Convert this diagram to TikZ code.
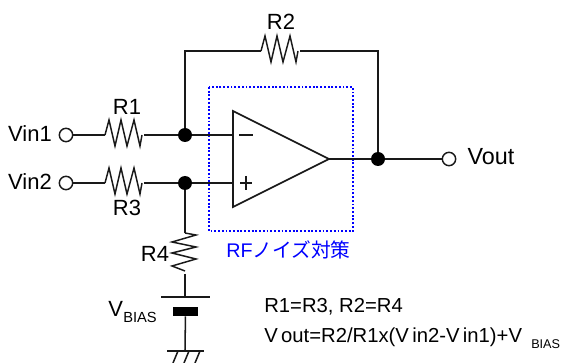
\documentclass[tikz,border=0pt]{standalone}
\usepackage{fontspec}
\setmainfont{Liberation Sans}
\newfontfamily\cjkfont{Noto Sans CJK JP}
\usetikzlibrary{calc}
\tikzset{
  wire/.style={line width=1.15pt,black!90},
  stub/.style={line width=1.6pt,black!90},
  zig/.style={line width=1.1pt,black!90,line join=miter},
  term/.style={circle,draw=black!90,fill=white,line width=1.1pt,minimum size=10pt,inner sep=0pt},
  dotj/.style={circle,fill=black,minimum size=10.5pt,inner sep=0pt},
  lbl/.style={inner sep=0pt,font=\fontsize{16.5}{18}\selectfont,text=black},
  eqn/.style={inner sep=0pt,anchor=base west,font=\fontsize{15.2}{18}\selectfont,text=black},
}
\newcommand{\zigh}[2]{% horizontal resistor: left end name, right end name
  \draw[zig] (#1) -- ++(4,-15) -- ++(6,26) -- ++(6,-26) -- ++(6,26) -- ++(7,-26) -- ++(6,26) -- (#2);}
\begin{document}
\begin{tikzpicture}[x=0.75pt,y=-0.75pt]
\useasboundingbox (0,0) rectangle (564,363);
% box
\draw[blue,line width=1.4pt,dash pattern=on 1.4pt off 1.4pt] (209,87) rectangle (353,231);
% terminals and joints
\node[term] (vin1) at (66,135) {};
\node[term] (vin2) at (66,183) {};
\node[term] (vout) at (449,159) {};
\node[dotj] (n1) at (185,135) {};
\node[dotj] (n2) at (185,183) {};
\node[dotj] (n3) at (378,159) {};
% resistor ends
\coordinate (r1a) at (105,135); \coordinate (r1b) at (142,135);
\coordinate (r3a) at (105,183); \coordinate (r3b) at (142,183);
\coordinate (r2a) at (261,51);  \coordinate (r2b) at (298,51);
\coordinate (r4a) at (185,233); \coordinate (r4b) at (185,271);
\zigh{r1a}{r1b}
\zigh{r3a}{r3b}
\zigh{r2a}{r2b}
\draw[zig] (r4a) -- (196,235) -- (172,242) -- (196,247) -- (172,253) -- (196,259) -- (172,266) -- (r4b);
% opamp
\coordinate (ia) at (233,135); \coordinate (ib) at (233,183); \coordinate (oa) at (329,159);
\draw[wire,line width=1.3pt,line join=miter] (233,111) -- (233,207) -- (oa) -- cycle;
\draw[wire] (239,135) -- (253,135);
\draw[wire] (240,183) -- (252,183) (246,176) -- (246,190);
% wires
\draw[wire] (vin1) -- (r1a);
\draw[wire] (r1b) ++(2,0) -- (n1);
\draw[wire] (vin2) -- (r3a);
\draw[wire] (r3b) ++(2,0) -- (n2);
\draw[wire] (n1) -- (ia);
\draw[wire] (n2) -- (ib);
\draw[stub] (221,135) -- (ia);
\draw[stub] (221,183) -- (ib);
\draw[stub] (oa) -- (341,159);
\draw[wire] (n1) |- (r2a);
\draw[wire] (r2b) ++(2,0) -| (n3);
\draw[wire] (oa) -- (n3);
\draw[wire] (n3) -- (vout);
\draw[wire] (n2) -- (r4a);
% battery and ground
\coordinate (bt) at (185,297); \coordinate (g) at (185,351);
\draw[wire] (185,274) -- (bt);
\draw[wire] (161,297) -- (210,297);
\node[fill=black,minimum width=18.75pt,minimum height=6.75pt,inner sep=0pt] (bat) at (185.5,311.5) {};
\draw[wire] (bat) -- (g);
\draw[wire] (167,351) -- (204,351);
\draw[wire] (178,351) -- (173,363) (189,351) -- (184,363) (200,351) -- (195,363);
% labels
\node[lbl] (l0) at (30,134) {Vin1};
\node[lbl] (l1) at (30,182) {Vin2};
\node[lbl,font=\fontsize{17.5}{18}\selectfont] (l2) at (491,157) {Vout};
\node[lbl] (l3) at (127,107) {R1};
\node[lbl] (l4) at (127,208) {R3};
\node[lbl] (l5) at (281,22) {R2};
\node[lbl] (l6) at (155,254) {R4};
\node[lbl,anchor=base west] (l7) at (108,316) {V};
\node[inner sep=0pt,anchor=base west,font=\fontsize{11}{13}\selectfont] (l8) at (123,322) {BIAS};
\node[inner sep=0pt,anchor=west,text=blue,font=\fontsize{14.8}{17}\selectfont] (l9) at (226,250) {RF{\cjkfont ノイズ対策}};
\node[eqn] (e1) at (264,312) {R1=R3, R2=R4};
\node[eqn] (e2) at (264,343) {V\kern2.5pt out=R2/R1x(V\kern2.5pt in2-V\kern2.5pt in1)+V};
\node[inner sep=0pt,anchor=base west,font=\fontsize{9.5}{12}\selectfont] (e3) at (531,349) {BIAS};
\end{tikzpicture}
\end{document}
